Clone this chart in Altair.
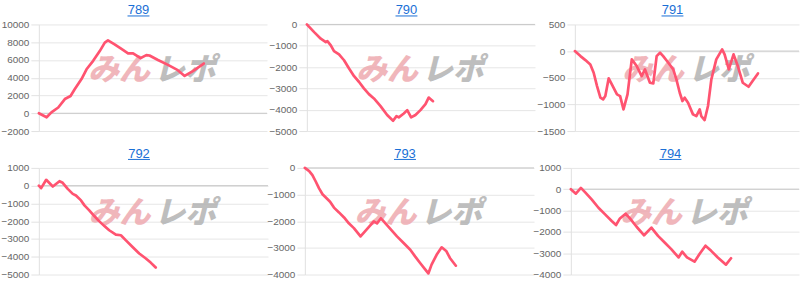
import altair as alt
import pandas as pd

TITLES = ["789", "790", "791", "792", "793", "794"]

X789 = [0, 3.4, 5.5, 8.5, 11.4, 13.9, 15.7, 18.7, 20.9, 23.8, 26.7, 28.9, 30.3, 33.2, 36.2, 39.1, 41.3, 44.6, 47.1, 48.5, 52.2, 56.6, 60.9, 63.9, 67.5, 72.3]
Y789 = [0, -450, 100, 650, 1600, 1950, 2700, 3850, 4950, 5900, 7000, 7950, 8200, 7750, 7250, 6750, 6750, 6200, 6550, 6500, 6000, 5450, 4850, 4200, 4750, 5600]

X790 = [0, 3.2, 6.1, 8.3, 9.0, 10.5, 11.9, 14.1, 16.3, 18.5, 20.7, 22.9, 25.0, 27.2, 29.4, 32.3, 35.2, 37.8, 39.3, 40.3, 42.5, 44.0, 45.7, 47.6, 49.8, 52.0, 53.4, 55.3]
Y790 = [0, -360, -670, -830, -780, -980, -1250, -1400, -1680, -2070, -2430, -2700, -3000, -3270, -3470, -3830, -4250, -4520, -4300, -4360, -4180, -4020, -4360, -4250, -4020, -3740, -3430, -3600]

X791 = [0, 2.5, 4.7, 6.9, 8.4, 9.9, 11.4, 12.6, 13.6, 15.1, 16.5, 18.8, 20.2, 21.7, 23.5, 25.4, 27.6, 29.8, 31.3, 33.5, 35.0, 36.5, 38.0, 39.4, 41.7, 43.9, 45.3, 46.8, 48.0, 49.0, 50.5, 52.7, 54.2, 55.7, 56.4, 57.9, 59.4, 60.9, 63.1, 65.7, 66.8, 68.7, 70.8, 72.7, 74.9, 77.5, 79.3, 81.7]
Y791 = [0, -94, -169, -250, -406, -656, -875, -906, -844, -512, -625, -812, -844, -1094, -812, -156, -281, -469, -344, -594, -606, -94, -31, -94, -219, -344, -531, -781, -937, -875, -969, -1187, -1219, -1094, -1219, -1294, -1031, -531, -156, 31, -62, -344, -62, -281, -594, -669, -562, -419]

X792 = [0, 1.0, 3.2, 6.1, 9.0, 10.4, 12.6, 14.8, 16.2, 18.4, 19.9, 22.0, 24.2, 26.4, 28.6, 30.7, 33.6, 35.8, 38.0, 40.9, 43.8, 46.7, 48.8, 51.0]
Y792 = [0, -140, 330, -50, 250, 160, -180, -460, -550, -830, -1110, -1390, -1710, -2010, -2270, -2510, -2760, -2790, -3080, -3450, -3820, -4100, -4330, -4610]

X793 = [0, 1.9, 3.3, 4.8, 6.2, 7.7, 9.8, 11.0, 12.7, 14.9, 17.1, 19.2, 21.4, 24.3, 27.2, 30.1, 31.5, 33.2, 34.4, 37.3, 40.2, 43.1, 46.0, 48.1, 50.3, 52.5, 53.9, 55.3, 57.5, 59.7, 61.8, 63.3, 65.9]
Y793 = [0, -120, -270, -520, -770, -990, -1170, -1270, -1490, -1670, -1860, -2080, -2260, -2570, -2290, -2010, -2080, -1890, -2010, -2290, -2570, -2820, -3070, -3320, -3570, -3810, -3960, -3630, -3260, -2980, -3130, -3380, -3670]

X794 = [0, 2.2, 4.4, 6.3, 9.2, 12.1, 15.0, 17.9, 19.8, 21.5, 24.0, 25.9, 28.8, 32.1, 35.3, 38.2, 41.1, 44.0, 47.2, 48.8, 50.9, 54.2, 56.4, 59.0, 61.5, 64.4, 68.0, 70.2]
Y794 = [0, -210, 60, -150, -490, -870, -1180, -1490, -1680, -1370, -1150, -1370, -1760, -2160, -1800, -2190, -2500, -2810, -3200, -2930, -3200, -3400, -3040, -2650, -2890, -3200, -3540, -3240]

Y_TICKS = [
    [-2000, 0, 2000, 4000, 6000, 8000, 10000],
    [-5000, -4000, -3000, -2000, -1000, 0],
    [-1500, -1000, -500, 0, 500],
    [-5000, -4000, -3000, -2000, -1000, 0, 1000],
    [-4000, -3000, -2000, -1000, 0],
    [-4000, -3000, -2000, -1000, 0, 1000],
]
SERIES = [(X789, Y789), (X790, Y790), (X791, Y791), (X792, Y792), (X793, Y793), (X794, Y794)]
WATERMARK = ["みん", "レポ"]

# plot widths per panel
WIDTHS = [229, 229, 225, 230, 230, 229]
H = 107
TITLE_Y = -10
TITLE_DX = 4
AXIS_EXT = 37
LINE_COLOR = "#ff5370"
LINK_COLOR = "#1a6fd6"


def panel(i):
    xs, ys = SERIES[i]
    ticks = Y_TICKS[i]
    w = WIDTHS[i]
    df = pd.DataFrame({"x": xs, "y": ys})
    yscale = alt.Scale(domain=[min(ticks), max(ticks)], nice=False, zero=False)
    xscale = alt.Scale(domain=[0, 100], nice=False)

    line = alt.Chart(df).mark_line(color=LINE_COLOR, strokeWidth=2.7,
                                   strokeJoin="round", strokeCap="round").encode(
        x=alt.X("x:Q", scale=xscale, axis=None),
        y=alt.Y("y:Q", scale=yscale, title=None,
                axis=alt.Axis(values=ticks, tickCount=len(ticks), format="d", grid=True,
                              labelOverlap=False, minExtent=AXIS_EXT, maxExtent=AXIS_EXT)),
    )
    zero = alt.Chart(pd.DataFrame({"z": [0]})).mark_rule(color="#c8c8c8", strokeWidth=1).encode(
        y=alt.Y("z:Q", scale=yscale, title=None)
    )
    wm1 = alt.Chart(pd.DataFrame({"t": [WATERMARK[0]]})).mark_text(
        font="Noto Sans CJK JP", fontWeight=900, fontStyle="italic", fontSize=31,
        color="#eeaab0", opacity=0.85, align="center", baseline="middle"
    ).encode(text="t:N", x=alt.value(w / 2 - 34), y=alt.value(H / 2 - 7))
    wm2 = alt.Chart(pd.DataFrame({"t": [WATERMARK[1]]})).mark_text(
        font="Noto Sans CJK JP", fontWeight=900, fontStyle="italic", fontSize=31,
        color="#b3b3b3", opacity=0.85, align="center", baseline="middle"
    ).encode(text="t:N", x=alt.value(w / 2 + 32), y=alt.value(H / 2 - 7))

    cx = (w - AXIS_EXT) / 2 + TITLE_DX
    title = alt.Chart(pd.DataFrame({"t": [TITLES[i]]})).mark_text(
        font="Liberation Sans", fontSize=13, color=LINK_COLOR, align="center",
        baseline="alphabetic"
    ).encode(text="t:N", x=alt.value(cx), y=alt.value(TITLE_Y))
    underline = alt.Chart(pd.DataFrame({"t": [TITLES[i]]})).mark_rule(
        color=LINK_COLOR, strokeWidth=1).encode(
        x=alt.value(cx - 11), x2=alt.value(cx + 11), y=alt.value(TITLE_Y + 1.5)
    )

    return alt.layer(wm1, wm2, zero, line, title, underline).properties(width=w, height=H)


row1 = alt.hconcat(panel(0), panel(1), panel(2), spacing=40, bounds="flush")
row2 = alt.hconcat(panel(3), panel(4), panel(5), spacing=37, bounds="flush")

chart = alt.vconcat(row1, row2, spacing=12).properties(
    padding={"left": 0, "top": 4, "right": 0, "bottom": 0}
).configure_view(stroke=None).configure_axis(
    labelFont="Liberation Sans", labelFontSize=10, labelColor="#666666",
    tickColor="#e2e2e2", tickSize=8, labelPadding=2,
    gridColor="#e6e6e6", domainColor="#e0e0e0",
)

chart.save("out.html", embed_options={"renderer": "svg", "actions": False})
